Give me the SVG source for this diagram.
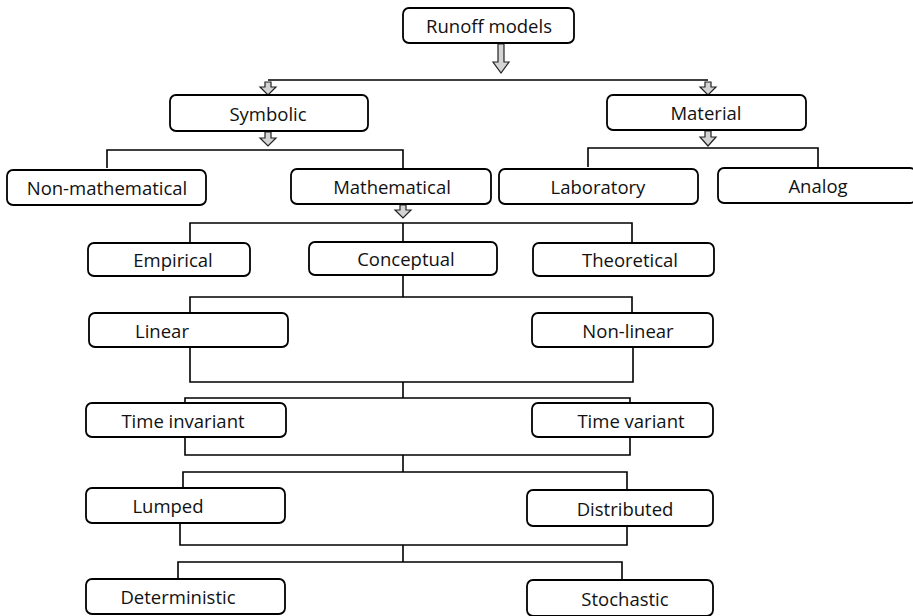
<svg xmlns="http://www.w3.org/2000/svg" width="913" height="616" viewBox="0 0 913 616">
<defs>
<style>
.box{fill:#fff;stroke:#000;stroke-width:1.8}
.t{font-family:"Open Sans","Noto Sans",sans-serif;font-size:18.5px;fill:#111;text-anchor:middle;dominant-baseline:central}
.ln{fill:none;stroke:#000;stroke-width:1.6}
.ar{fill:#d4d4d4;stroke:#222;stroke-width:1.2}
</style>
</defs>
<rect width="913" height="616" fill="#fff"/>
<g id="connectors">
<path class="ln" d="M268,80 H708"/>
<path class="ln" d="M107,168 V150 H403 V168"/>
<path class="ln" d="M588,167 V148 H818 V167"/>
<path class="ln" d="M190,242 V223 H632 V242 M403,223 V242"/>
<path class="ln" d="M403,275 V297 M190,313 V297 H632 V313"/>
<path class="ln" d="M190,347 V382 H633 V347 M403,382 V398"/>
<path class="ln" d="M185,403 V398 H630 V403"/>
<path class="ln" d="M185,437 V455 H630 V437 M403,455 V472"/>
<path class="ln" d="M183,488 V472 H627 V490"/>
<path class="ln" d="M180,523 V545 H627 V526 M403,545 V562"/>
<path class="ln" d="M178,579 V562 H622 V580"/>
<path class="ar" d="M498,44 H504 V62 H509 L501,73 L493,62 H498 Z"/>
<path class="ar" d="M265,82 H271 V87 H276 L268,95 L260,87 H265 Z"/>
<path class="ar" d="M705,82 H711 V87 H716 L708,95 L700,87 H705 Z"/>
<path class="ar" d="M265,132 H271 V138 H276 L268,146 L260,138 H265 Z"/>
<path class="ar" d="M705,131 H711 V137 H716 L708,146 L700,137 H705 Z"/>
<path class="ar" d="M400,205 H406 V210 H411 L403,218 L395,210 H400 Z"/>
</g>
<g id="n-runoff"><rect class="box" x="403" y="8" width="171" height="35" rx="6"/><text class="t" x="489" y="25.5">Runoff models</text></g>
<g id="n-symbolic"><rect class="box" x="170" y="95" width="198" height="36" rx="6"/><text class="t" x="268" y="113">Symbolic</text></g>
<g id="n-material"><rect class="box" x="607" y="95" width="199" height="35" rx="6"/><text class="t" x="706" y="112.5">Material</text></g>
<g id="n-nonmath"><rect class="box" x="7" y="170" width="199" height="35" rx="6"/><text class="t" x="107" y="187.5">Non-mathematical</text></g>
<g id="n-math"><rect class="box" x="291" y="169" width="200" height="35" rx="6"/><text class="t" x="392" y="186.5">Mathematical</text></g>
<g id="n-lab"><rect class="box" x="499" y="169" width="199" height="35" rx="6"/><text class="t" x="598" y="186.5">Laboratory</text></g>
<g id="n-analog"><rect class="box" x="718" y="168" width="198" height="35" rx="6"/><text class="t" x="818" y="185.5">Analog</text></g>
<g id="n-empirical"><rect class="box" x="88" y="243" width="162" height="33" rx="6"/><text class="t" x="173" y="259.5">Empirical</text></g>
<g id="n-conceptual"><rect class="box" x="309" y="242" width="188" height="33" rx="6"/><text class="t" x="406" y="258.5">Conceptual</text></g>
<g id="n-theoretical"><rect class="box" x="533" y="243" width="181" height="33" rx="6"/><text class="t" x="630" y="259.5">Theoretical</text></g>
<g id="n-linear"><rect class="box" x="89" y="313" width="199" height="34" rx="6"/><text class="t" x="162" y="330">Linear</text></g>
<g id="n-nonlinear"><rect class="box" x="532" y="313" width="181" height="34" rx="6"/><text class="t" x="628" y="330">Non-linear</text></g>
<g id="n-timeinv"><rect class="box" x="86" y="403" width="200" height="34" rx="6"/><text class="t" x="183" y="420">Time invariant</text></g>
<g id="n-timevar"><rect class="box" x="532" y="403" width="181" height="34" rx="6"/><text class="t" x="631" y="420">Time variant</text></g>
<g id="n-lumped"><rect class="box" x="86" y="488" width="199" height="35" rx="6"/><text class="t" x="168" y="505.5">Lumped</text></g>
<g id="n-distributed"><rect class="box" x="527" y="490" width="186" height="36" rx="6"/><text class="t" x="625" y="508">Distributed</text></g>
<g id="n-deterministic"><rect class="box" x="86" y="579" width="199" height="35" rx="6"/><text class="t" x="178" y="596.5">Deterministic</text></g>
<g id="n-stochastic"><rect class="box" x="527" y="580" width="186" height="36" rx="6"/><text class="t" x="625" y="598">Stochastic</text></g>
</svg>
